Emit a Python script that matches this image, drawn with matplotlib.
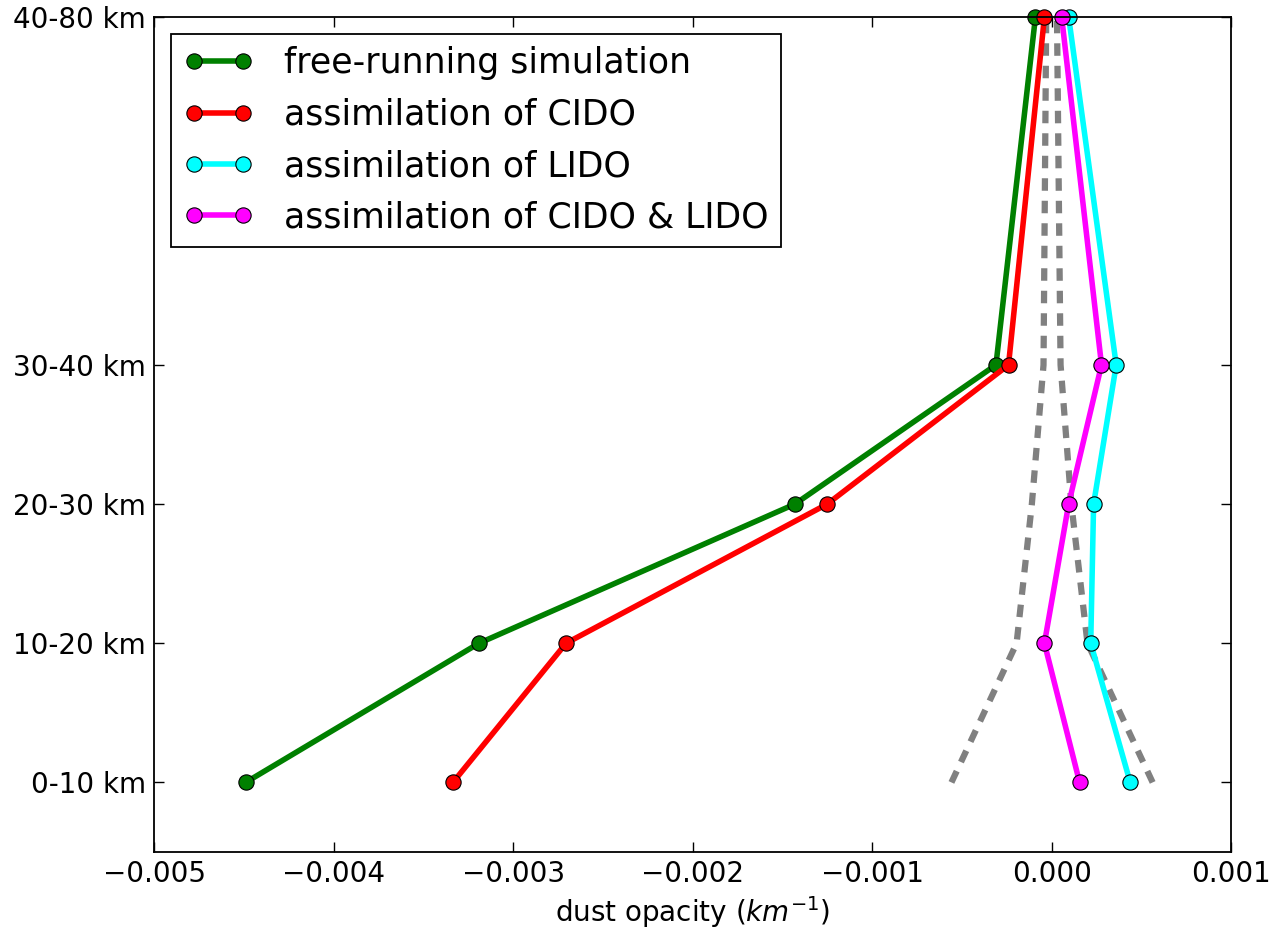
import matplotlib
matplotlib.use('Agg')
import matplotlib.pyplot as plt

# layer mid-heights (km) and their labels
heights = [5, 15, 25, 35, 60]
layer_labels = ['0-10 km', '10-20 km', '20-30 km', '30-40 km', '40-80 km']

free_run = [-0.00449, -0.00319, -0.00143, -0.00031, -0.00009]
cido = [-0.003335, -0.002705, -0.00125, -0.00024, -0.00004]
lido = [0.000438, 0.000218, 0.000234, 0.00036, 0.000095]
cido_lido = [0.000156, -0.00004, 0.000095, 0.000278, 0.000056]

spread_lo = [-0.000558, -0.000195, -0.00011, -0.000045, -0.00003]
spread_hi = [0.000563, 0.0002, 0.00011, 0.00005, 0.00003]

fig = plt.figure(figsize=(12.84, 9.33), dpi=100)
ax = fig.add_axes([0.12, 0.0868, 0.8388, 0.895])

ax.plot(spread_lo, heights, '--', color='gray', lw=4.5, dashes=(2.0, 1.6))
ax.plot(spread_hi, heights, '--', color='gray', lw=4.5, dashes=(2.0, 1.6))

style = dict(lw=4, marker='o', ms=11, mec='k', mew=0.8, clip_on=False)
ax.plot(free_run, heights, color='green', label='free-running simulation', **style)
ax.plot(cido, heights, color='red', label='assimilation of CIDO', **style)
ax.plot(lido, heights, color='cyan', label='assimilation of LIDO', **style)
ax.plot(cido_lido, heights, color='magenta', label='assimilation of CIDO & LIDO', **style)

ax.set_xlim(-0.005, 0.001)
ax.set_ylim(0, 60)
ax.set_yticks(heights)
ax.set_yticklabels(layer_labels)
ax.tick_params(direction='in', top=True, right=True, length=7, width=1, labelsize=20, pad=6)
ax.set_xlabel('dust opacity ($km^{-1}$)', fontsize=20)
for s in ax.spines.values():
    s.set_linewidth(1.3)

leg = ax.legend(loc='upper left', fontsize=25, fancybox=False, framealpha=1,
                edgecolor='k', numpoints=2, handlelength=2.0, handletextpad=0.9,
                borderpad=0.35, labelspacing=0.5, borderaxespad=0.5)
leg.get_frame().set_linewidth(1.3)

fig.savefig('out.png', dpi=100)
